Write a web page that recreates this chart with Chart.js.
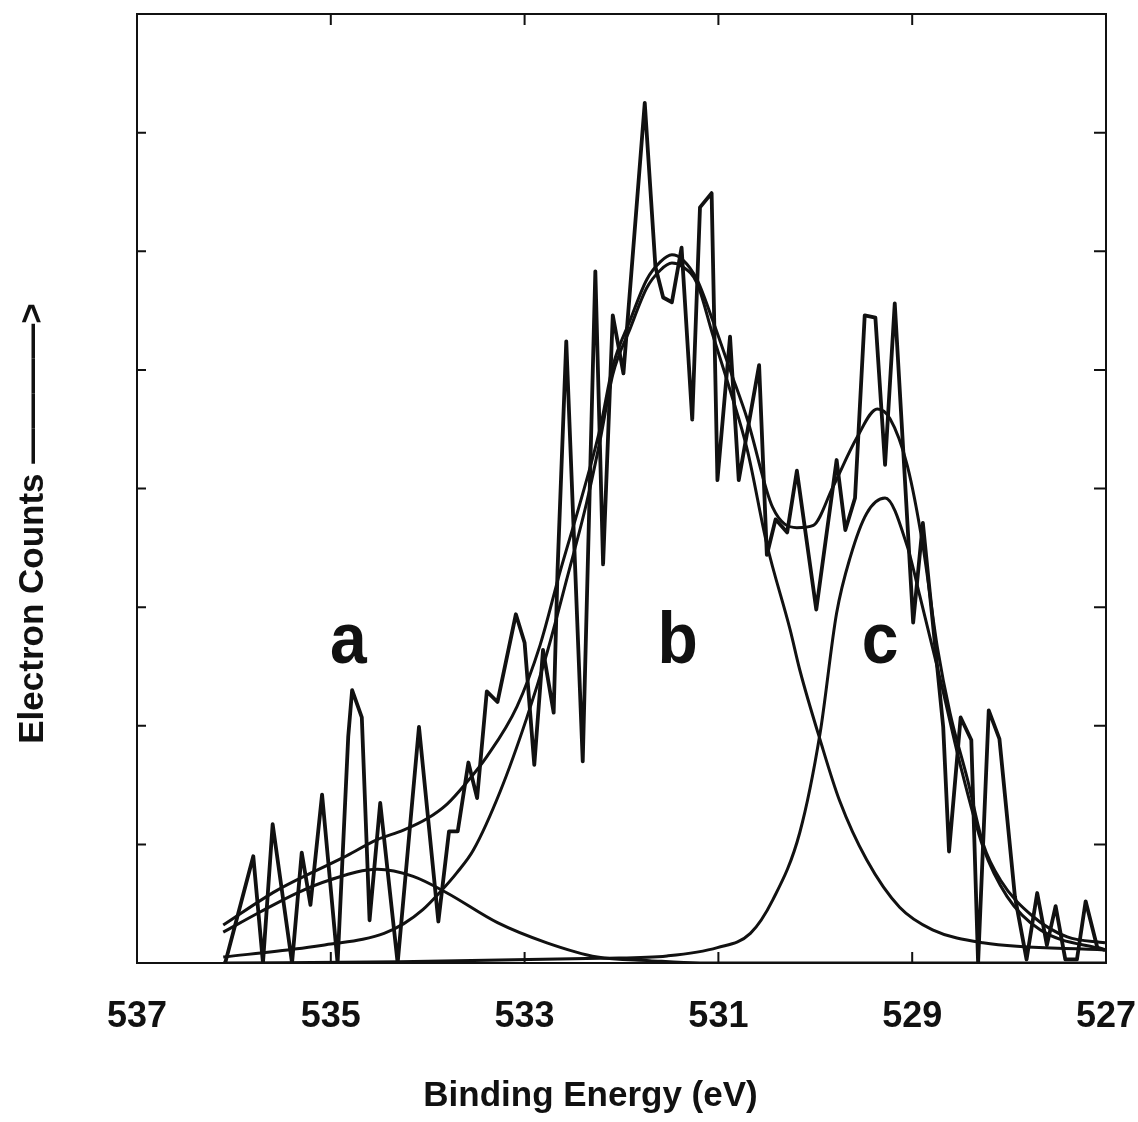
<!DOCTYPE html>
<html>
<head>
<meta charset="utf-8">
<title>O 1s spectrum</title>
<script src="https://cdn.jsdelivr.net/npm/chart.js@4.4.0/dist/chart.umd.min.js"></script>
<style>
  body { margin: 0; background: #fff; }
  canvas { display: block; }
</style>
</head>
<body>
<canvas id="xpsChart" width="1138" height="1122"></canvas>
<script>
// raw spectrum (binding energy in eV, counts in arbitrary units)
const dataEnergy = [536.09, 535.80, 535.70, 535.60, 535.40, 535.30, 535.21, 535.09, 534.93, 534.82,
  534.78, 534.68, 534.60, 534.49, 534.31, 534.09, 533.89, 533.78, 533.69, 533.58,
  533.49, 533.39, 533.28, 533.09, 533.00, 532.90, 532.81, 532.70, 532.66, 532.57,
  532.40, 532.27, 532.19, 532.09, 531.98, 531.76, 531.65, 531.57, 531.48, 531.38,
  531.27, 531.19, 531.07, 531.01, 530.88, 530.79, 530.58, 530.50, 530.41, 530.29,
  530.19, 529.99, 529.78, 529.69, 529.59, 529.49, 529.38, 529.28, 529.18, 528.99,
  528.89, 528.68, 528.62, 528.50, 528.39, 528.32, 528.21, 528.10, 527.94, 527.82,
  527.71, 527.61, 527.52, 527.42, 527.30, 527.21, 527.09, 527.01];
const dataCounts = [0.0, 0.90, 0.0, 1.17, 0.0, 0.93, 0.49, 1.42, 0.0, 1.91,
  2.30, 2.07, 0.36, 1.35, 0.0, 1.99, 0.35, 1.11, 1.11, 1.69,
  1.39, 2.29, 2.20, 2.94, 2.70, 1.67, 2.64, 2.11, 3.31, 5.24,
  1.70, 5.83, 3.36, 5.46, 4.97, 7.25, 5.87, 5.61, 5.57, 6.03,
  4.58, 6.37, 6.49, 4.07, 5.28, 4.07, 5.04, 3.44, 3.74, 3.63,
  4.15, 2.98, 4.24, 3.65, 3.92, 5.46, 5.44, 4.20, 5.56, 2.87,
  3.71, 1.99, 0.94, 2.07, 1.88, 0.0, 2.13, 1.89, 0.56, 0.03,
  0.59, 0.15, 0.48, 0.03, 0.03, 0.52, 0.13, 0.11];

// fitted envelope
const envEnergy = [536.11, 535.56, 534.87, 534.52, 534.25, 534.00, 533.80, 533.60, 533.39, 533.08,
  532.84, 532.63, 532.43, 532.22, 532.09, 531.91, 531.74, 531.60, 531.48, 531.37,
  531.22, 531.06, 530.88, 530.70, 530.44, 530.19, 530.02, 529.82, 529.57, 529.36,
  529.23, 529.05, 528.89, 528.74, 528.61, 528.43, 528.27, 528.09, 527.75, 527.40, 527.01];
const envCounts = [0.32, 0.61, 0.89, 1.04, 1.12, 1.22, 1.34, 1.52, 1.74, 2.16,
  2.68, 3.31, 3.87, 4.51, 5.03, 5.42, 5.76, 5.91, 5.97, 5.93,
  5.76, 5.42, 5.00, 4.58, 3.84, 3.67, 3.69, 4.01, 4.43, 4.67,
  4.59, 4.19, 3.52, 2.66, 2.11, 1.55, 1.01, 0.70, 0.39, 0.22, 0.17];

// component a
const aEnergy = [536.11, 535.73, 535.35, 535.01, 534.52, 534.15, 533.80, 533.28, 532.77, 532.25, 531.71, 531.19, 527.01];
const aCounts = [0.26, 0.43, 0.59, 0.70, 0.79, 0.73, 0.59, 0.34, 0.17, 0.05, 0.02, 0.0, 0.0];

// component b
const bEnergy = [536.11, 535.35, 535.00, 534.67, 534.45, 534.25, 534.05, 533.87, 533.70, 533.53,
  533.25, 532.98, 532.77, 532.56, 532.36, 532.22, 532.09, 531.91, 531.74, 531.60,
  531.48, 531.37, 531.22, 531.06, 530.88, 530.70, 530.50, 530.26, 530.16, 529.95,
  529.75, 529.47, 529.13, 528.79, 528.27, 527.01];
const bCounts = [0.05, 0.12, 0.16, 0.20, 0.25, 0.33, 0.45, 0.60, 0.76, 0.95,
  1.45, 2.06, 2.61, 3.25, 3.88, 4.41, 4.96, 5.35, 5.69, 5.84,
  5.90, 5.87, 5.73, 5.30, 4.83, 4.32, 3.53, 2.81, 2.47, 1.88,
  1.37, 0.87, 0.47, 0.28, 0.17, 0.11];

// component c
const cEnergy = [536.11, 534.29, 532.22, 531.53, 531.01, 530.67, 530.44, 530.16, 529.95, 529.78,
  529.64, 529.47, 529.28, 529.05, 528.92, 528.71, 528.51, 528.27, 528.02, 527.68, 527.01];
const cCounts = [0.0, 0.01, 0.04, 0.06, 0.13, 0.25, 0.53, 1.10, 1.94, 2.95,
  3.42, 3.79, 3.92, 3.51, 3.09, 2.39, 1.69, 0.98, 0.56, 0.28, 0.11];

// peak letters and where they sit (energy, counts at baseline)
const peakLabels = ['a', 'b', 'c'];
const peakLabelEnergy = [534.82, 531.42, 529.33];
const peakLabelCount = 2.53;

const xTitle = 'Binding Energy (eV)';
const yTitle = 'Electron Counts \u2014\u2014\u2014\u2014>';

const ink = '#111111';
const fontFamily = '"Liberation Sans", Arial, sans-serif';

function points(xs, ys) {
  return xs.map((x, i) => ({ x: x, y: ys[i] }));
}

function smoothLine(xs, ys) {
  return {
    data: points(xs, ys),
    borderColor: ink,
    borderWidth: 3,
    tension: 0.4,
    cubicInterpolationMode: 'monotone',
    fill: false,
    pointRadius: 0
  };
}

const framePlugin = {
  id: 'frame',
  afterDraw(chart) {
    const ctx = chart.ctx;
    const a = chart.chartArea;
    const x = chart.scales.x;
    const y = chart.scales.y;

    ctx.save();
    ctx.strokeStyle = ink;
    ctx.lineWidth = 2;
    ctx.strokeRect(a.left, a.top, a.right - a.left, a.bottom - a.top);

    // inward tick marks on all four sides
    ctx.beginPath();
    x.ticks.forEach(t => {
      const px = x.getPixelForValue(t.value);
      ctx.moveTo(px, a.bottom); ctx.lineTo(px, a.bottom - 11);
      ctx.moveTo(px, a.top); ctx.lineTo(px, a.top + 11);
    });
    y.ticks.forEach(t => {
      if (t.value <= 0 || t.value >= 8) return;
      const py = y.getPixelForValue(t.value);
      ctx.moveTo(a.left, py); ctx.lineTo(a.left + 9, py);
      ctx.moveTo(a.right, py); ctx.lineTo(a.right - 12, py);
    });
    ctx.stroke();

    // peak letters
    ctx.fillStyle = ink;
    ctx.font = 'bold 66px ' + fontFamily;
    ctx.textAlign = 'center';
    ctx.textBaseline = 'alphabetic';
    peakLabels.forEach((s, i) => {
      ctx.save();
      ctx.translate(x.getPixelForValue(peakLabelEnergy[i]), y.getPixelForValue(peakLabelCount));
      ctx.scale(1, 1.1);
      ctx.fillText(s, 0, 0);
      ctx.restore();
    });

    // axis titles
    ctx.font = 'bold 35px ' + fontFamily;
    ctx.fillText(xTitle, (a.left + a.right) / 2 - 31, 1106);

    ctx.save();
    ctx.translate(43, (a.top + a.bottom) / 2 + 35);
    ctx.rotate(-Math.PI / 2);
    ctx.fillText(yTitle, 0, 0);
    ctx.restore();

    ctx.restore();
  }
};

const ctx = document.getElementById('xpsChart').getContext('2d');
window.myChart = new Chart(ctx, {
  type: 'line',
  data: {
    datasets: [
      {
        data: points(dataEnergy, dataCounts),
        borderColor: ink,
        borderWidth: 3.8,
        borderJoinStyle: 'round',
        tension: 0,
        fill: false,
        pointRadius: 0
      },
      smoothLine(envEnergy, envCounts),
      smoothLine(aEnergy, aCounts),
      smoothLine(bEnergy, bCounts),
      smoothLine(cEnergy, cCounts)
    ]
  },
  options: {
    responsive: false,
    animation: false,
    layout: { padding: { top: 14, right: 32, left: 0, bottom: 0 } },
    plugins: {
      legend: { display: false },
      tooltip: { enabled: false }
    },
    scales: {
      x: {
        type: 'linear',
        reverse: true,
        min: 527,
        max: 537,
        ticks: {
          stepSize: 2,
          autoSkip: false,
          maxRotation: 0,
          padding: 32,
          color: ink,
          font: { family: fontFamily, size: 36, weight: 'bold' },
          callback: v => String(v)
        },
        grid: { display: false, drawTicks: false },
        border: { display: false },
        afterFit: s => {
          s.height = 159;
          s.paddingLeft = 0;
          s.paddingRight = 0;
        }
      },
      y: {
        min: 0,
        max: 8,
        ticks: { display: false, stepSize: 1 },
        grid: { display: false, drawTicks: false },
        border: { display: false },
        afterFit: s => { s.width = 137; }
      }
    }
  },
  plugins: [framePlugin]
});
</script>
</body>
</html>
